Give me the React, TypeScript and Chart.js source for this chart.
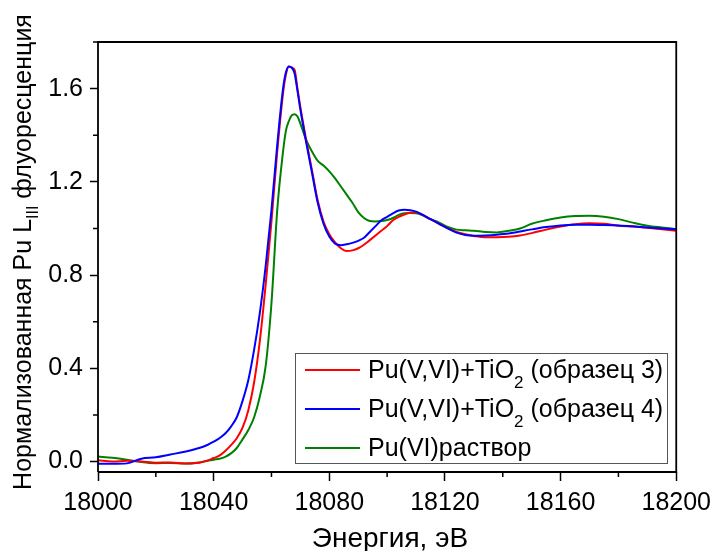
import React, { useEffect, useRef } from "react";
import { Chart, registerables } from "chart.js";

Chart.register(...registerables);

const energy = [
  18000, 18005, 18010, 18015, 18020, 18025, 18030, 18035, 18038, 18040, 18042, 18044, 18046, 18048,
  18050, 18052, 18054, 18056, 18058, 18060, 18062, 18064, 18065, 18066, 18067, 18068, 18069, 18070,
  18072, 18074, 18076, 18078, 18080, 18082, 18084, 18086, 18088, 18090, 18092, 18094, 18096, 18098,
  18100, 18102, 18104, 18106, 18108, 18110, 18112, 18115, 18118, 18121, 18124, 18127, 18130, 18134,
  18138, 18142, 18146, 18150, 18155, 18160, 18165, 18170, 18175, 18180, 18185, 18190, 18195, 18200,
];

const sample3 = [
  0.005, 0.0, 0.003, 0.0, -0.005, -0.004, -0.008, -0.005, 0.005, 0.015, 0.025, 0.045, 0.07, 0.1,
  0.145, 0.22, 0.34, 0.52, 0.76, 1.03, 1.33, 1.58, 1.66, 1.695, 1.69, 1.68, 1.6, 1.52,
  1.38, 1.25, 1.12, 1.03, 0.975, 0.94, 0.915, 0.903, 0.906, 0.915, 0.93, 0.95, 0.97, 0.99,
  1.01, 1.035, 1.05, 1.06, 1.067, 1.069, 1.06, 1.04, 1.02, 1.0, 0.985, 0.975, 0.968, 0.962,
  0.962, 0.964, 0.97, 0.98, 0.995, 1.008, 1.018, 1.022, 1.02, 1.012, 1.008, 1.003, 0.997, 0.99,
];

const sample4 = [
  -0.01, -0.01, -0.008, 0.012, 0.018, 0.03, 0.042, 0.058, 0.072, 0.085, 0.1, 0.12, 0.15, 0.19,
  0.26, 0.35, 0.48, 0.64, 0.84, 1.08, 1.36, 1.6, 1.67, 1.695, 1.69, 1.665, 1.59, 1.51,
  1.37, 1.24, 1.11, 1.02, 0.965, 0.935, 0.928, 0.932, 0.938, 0.947, 0.96, 0.985, 1.01, 1.035,
  1.05, 1.065, 1.077, 1.08, 1.078, 1.072, 1.06, 1.04, 1.02, 1.0, 0.982, 0.972, 0.969, 0.97,
  0.973, 0.978, 0.987, 0.996, 1.006, 1.013, 1.016, 1.016, 1.015, 1.013, 1.009, 1.004, 1.0, 0.997,
];

const solution = [
  0.021, 0.016, 0.008, -0.002, -0.007, -0.006, -0.009, -0.004, 0.003, 0.008, 0.012, 0.02, 0.035, 0.058,
  0.095, 0.135, 0.19, 0.28, 0.41, 0.68, 1.08, 1.33, 1.42, 1.46, 1.485, 1.49, 1.48, 1.45,
  1.38, 1.33, 1.29, 1.27, 1.245, 1.215, 1.18, 1.145, 1.11, 1.07, 1.045, 1.032, 1.03, 1.032,
  1.036, 1.045, 1.058, 1.065, 1.066, 1.065, 1.058, 1.04, 1.025, 1.006, 0.995, 0.992, 0.99, 0.985,
  0.983, 0.99, 1.0, 1.02, 1.035, 1.047, 1.053, 1.054, 1.05, 1.04, 1.025, 1.012, 1.004, 0.997,
];

const xTicks = [18000, 18040, 18080, 18120, 18160, 18200];
const xMinorTicks = [18020, 18060, 18100, 18140, 18180];
const yTicks = [0.0, 0.4, 0.8, 1.2, 1.6];
const yMinorTicks = [0.2, 0.6, 1.0, 1.4, 1.8];

const legendLabels = [
  { main: "Pu(V,VI)+TiO", sub: "2", rest: " (образец 3)", color: "#ff0000" },
  { main: "Pu(V,VI)+TiO", sub: "2", rest: " (образец 4)", color: "#0000ff" },
  { main: "Pu(VI)раствор", sub: "", rest: "", color: "#008000" },
];

const FONT = "'Liberation Sans', Arial, sans-serif";

const decorPlugin = {
  id: "decor",
  afterDraw(chart: any) {
    const ctx = chart.ctx as CanvasRenderingContext2D;
    const { left, right, top, bottom } = chart.chartArea;
    const xs = chart.scales.x;
    const ys = chart.scales.y;
    ctx.save();
    // frame
    ctx.strokeStyle = "#000";
    ctx.lineWidth = 1.8;
    ctx.beginPath();
    ctx.moveTo(left, bottom);
    ctx.lineTo(left, top);
    ctx.lineTo(right, top);
    ctx.lineTo(right, bottom);
    ctx.lineTo(left, bottom);
    ctx.stroke();
    // minor ticks
    ctx.lineWidth = 1.5;
    ctx.beginPath();
    xMinorTicks.forEach((v) => {
      const px = xs.getPixelForValue(v);
      ctx.moveTo(px, bottom);
      ctx.lineTo(px, bottom + 5);
    });
    yMinorTicks.forEach((v) => {
      const py = ys.getPixelForValue(v);
      ctx.moveTo(left, py);
      ctx.lineTo(left - 5, py);
    });
    ctx.stroke();

    // x title
    ctx.fillStyle = "#000";
    ctx.font = `28px ${FONT}`;
    ctx.textAlign = "center";
    ctx.textBaseline = "alphabetic";
    ctx.fillText("Энергия, эВ", 390, 547);

    // y title with subscript
    const p1 = "Нормализованная Pu L";
    const p2 = "III";
    const p3 = " флуоресценция";
    ctx.font = `25px ${FONT}`;
    const w1 = ctx.measureText(p1).width;
    const w3 = ctx.measureText(p3).width;
    ctx.font = `16px ${FONT}`;
    const w2 = ctx.measureText(p2).width;
    const total = w1 + w2 + w3;
    ctx.translate(31, 252);
    ctx.rotate(-Math.PI / 2);
    ctx.textAlign = "left";
    let cx = -total / 2;
    ctx.font = `25px ${FONT}`;
    ctx.fillText(p1, cx, 0);
    cx += w1;
    ctx.font = `16px ${FONT}`;
    ctx.fillText(p2, cx, 7);
    cx += w2;
    ctx.font = `25px ${FONT}`;
    ctx.fillText(p3, cx, 0);
    ctx.setTransform(1, 0, 0, 1, 0, 0);

    // legend
    const bx = 295, by = 353, bw = 372, bh = 110;
    ctx.fillStyle = "#fff";
    ctx.fillRect(bx, by, bw, bh);
    ctx.strokeStyle = "#555";
    ctx.lineWidth = 1;
    ctx.strokeRect(bx + 0.5, by + 0.5, bw, bh);
    const rows = [370, 409, 448];
    legendLabels.forEach((lab, i) => {
      const y = rows[i];
      ctx.strokeStyle = lab.color;
      ctx.lineWidth = 2;
      ctx.beginPath();
      ctx.moveTo(305, y);
      ctx.lineTo(360, y);
      ctx.stroke();
      ctx.fillStyle = "#000";
      ctx.textAlign = "left";
      ctx.font = `25px ${FONT}`;
      let tx = 368;
      ctx.fillText(lab.main, tx, y + 8);
      tx += ctx.measureText(lab.main).width;
      if (lab.sub) {
        ctx.font = `17px ${FONT}`;
        ctx.fillText(lab.sub, tx, y + 18);
        tx += ctx.measureText(lab.sub).width;
      }
      if (lab.rest) {
        ctx.font = `25px ${FONT}`;
        ctx.fillText(lab.rest, tx, y + 8);
      }
    });
    ctx.restore();
  },
};

export default function App() {
  const ref = useRef<HTMLCanvasElement | null>(null);
  useEffect(() => {
    if (!ref.current) return;
    const mk = (vals: number[]) => energy.map((e, i) => ({ x: e, y: vals[i] }));
    const chart = new Chart(ref.current, {
      type: "line",
      data: {
        datasets: [
          {
            label: "Pu(V,VI)+TiO2 (образец 3)",
            data: mk(sample3),
            borderColor: "#ff0000",
            borderWidth: 2,
            pointRadius: 0,
            cubicInterpolationMode: "monotone",
            order: 1,
          },
          {
            label: "Pu(V,VI)+TiO2 (образец 4)",
            data: mk(sample4),
            borderColor: "#0000ff",
            borderWidth: 2,
            pointRadius: 0,
            cubicInterpolationMode: "monotone",
            order: 0,
          },
          {
            label: "Pu(VI)раствор",
            data: mk(solution),
            borderColor: "#008000",
            borderWidth: 2,
            pointRadius: 0,
            cubicInterpolationMode: "monotone",
            order: 2,
          },
        ],
      },
      options: {
        responsive: false,
        animation: false,
        layout: { padding: { left: 0, top: 42, right: 37, bottom: 0 } },
        plugins: { legend: { display: false }, tooltip: { enabled: false } },
        scales: {
          x: {
            type: "linear",
            min: 18000,
            max: 18200,
            afterBuildTicks: (s: any) => {
              s.ticks = xTicks.map((v) => ({ value: v }));
            },
            afterFit: (s: any) => {
              s.height = 79;
            },
            grid: {
              display: true,
              drawOnChartArea: false,
              drawTicks: true,
              tickLength: 9,
              tickWidth: 1.5,
              tickColor: "#000",
            },
            border: { display: false },
            ticks: {
              color: "#000",
              font: { family: FONT, size: 25 },
              padding: 7,
              maxRotation: 0,
              autoSkip: false,
              callback: (v: any) => String(v),
            },
          },
          y: {
            type: "linear",
            min: -0.045,
            max: 1.8,
            afterBuildTicks: (s: any) => {
              s.ticks = yTicks.map((v) => ({ value: v }));
            },
            afterFit: (s: any) => {
              s.width = 98;
            },
            grid: {
              display: true,
              drawOnChartArea: false,
              drawTicks: true,
              tickLength: 8,
              tickWidth: 1.5,
              tickColor: "#000",
            },
            border: { display: false },
            ticks: {
              color: "#000",
              font: { family: FONT, size: 25 },
              padding: 7,
              autoSkip: false,
              callback: (v: any) => Number(v).toFixed(1),
            },
          },
        },
      },
      plugins: [decorPlugin],
    });
    return () => chart.destroy();
  }, []);
  return (
    <div style={{ position: "absolute", left: 0, top: 0, width: 718, height: 551, background: "#fff" }}>
      <canvas ref={ref} width={718} height={551} />
    </div>
  );
}
